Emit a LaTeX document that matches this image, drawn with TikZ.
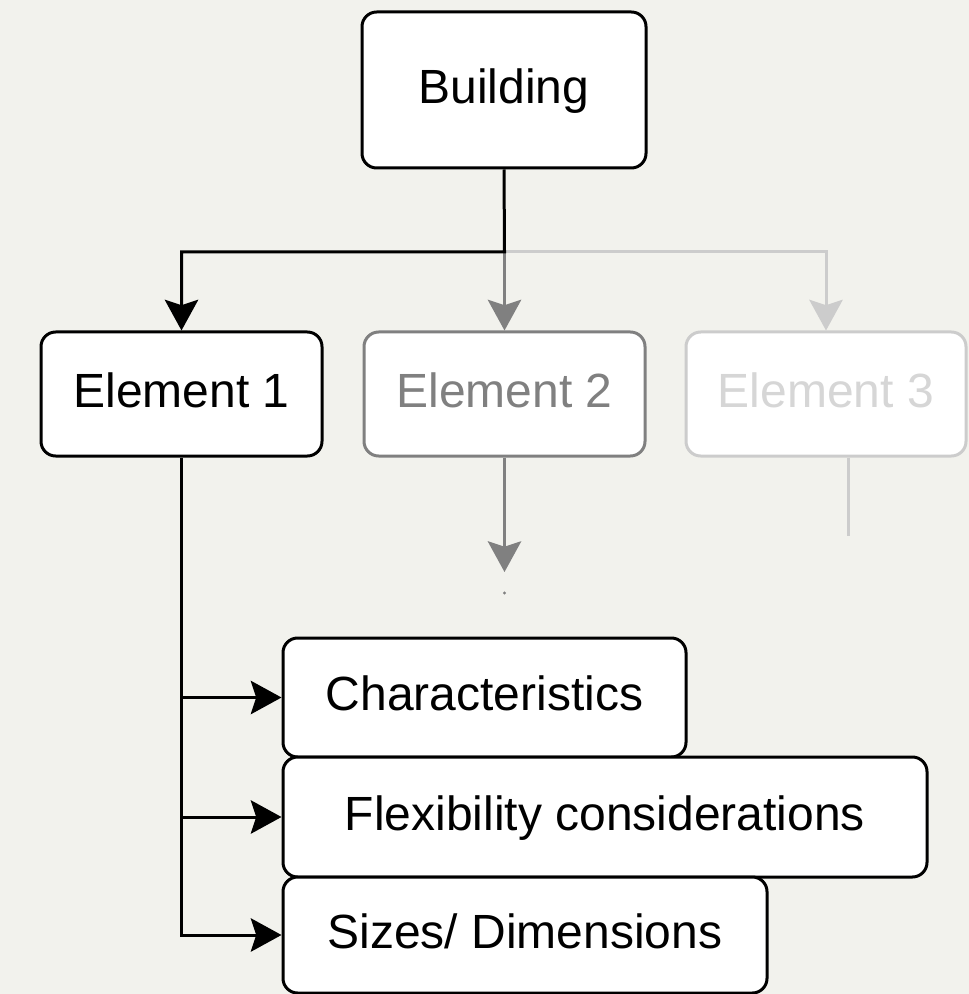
\documentclass[tikz,border=0pt]{standalone}
\usepackage{fontspec}
\setmainfont{Liberation Sans}
\usetikzlibrary{arrows.meta}
\definecolor{bgc}{RGB}{242,242,237}
\definecolor{midg}{RGB}{128,128,128}
\definecolor{lightg}{RGB}{204,204,204}
\definecolor{lightt}{RGB}{214,214,214}
\tikzset{
  box/.style={draw, fill=white, rounded corners=11pt, line width=2.25pt,
    inner sep=0pt, font=\fontsize{36pt}{43pt}\selectfont,
    text height=29pt, text depth=9pt},
  wire/.style={line width=2.25pt},
  arr/.style={wire, -{Stealth[length=23pt, width=25pt, inset=4pt]}},
}
\begin{document}
\begin{tikzpicture}[x=0.75pt, y=-0.75pt]
\useasboundingbox (0,0) rectangle (969,994);
\fill[bgc] (0,0) rectangle (969,994);

% boxes
\node[box, minimum width=213pt, minimum height=117pt] (bld) at (504,90) {Building};
\node[box, minimum width=210.75pt, minimum height=93pt] (e1) at (181.5,394) {Element 1};
\node[box, draw=midg, text=midg, minimum width=210.75pt, minimum height=93pt] (e2) at (504.5,394) {Element 2};
\node[box, draw=lightg, text=lightt, minimum width=210pt, minimum height=93pt] (e3) at (826,394) {Element 3};
\node[box, minimum width=302.25pt, minimum height=89.25pt] (ch) at (484.5,697.5) {Characteristics};
\node[box, minimum width=483pt, minimum height=90pt] (fx) at (605,817) {Flexibility considerations};
\node[box, minimum width=363pt, minimum height=87pt] (sz) at (525,935) {Sizes/ Dimensions};

% junction and free ends
\coordinate (j) at (504.5,252);
\coordinate (e2end) at (504.5,572);
\coordinate (e3end) at (848,536);

% connectors
\draw[arr, lightg] (j) -| (e3.north);
\draw[arr, midg] (j) -- (e2.north);
\draw[arr] (bld.south) -- (j) -| (e1.north);
\draw[arr, midg] (e2.south) -- (e2end);
\fill[midg] (504.5,593) circle (1.6);
\draw[wire, lightg] (e3end |- e3.south) -- (e3end);
\draw[arr] (e1.south) |- (sz.west);
\draw[arr] (e1.south |- ch.west) -- (ch.west);
\draw[arr] (e1.south |- fx.west) -- (fx.west);
\end{tikzpicture}
\end{document}
